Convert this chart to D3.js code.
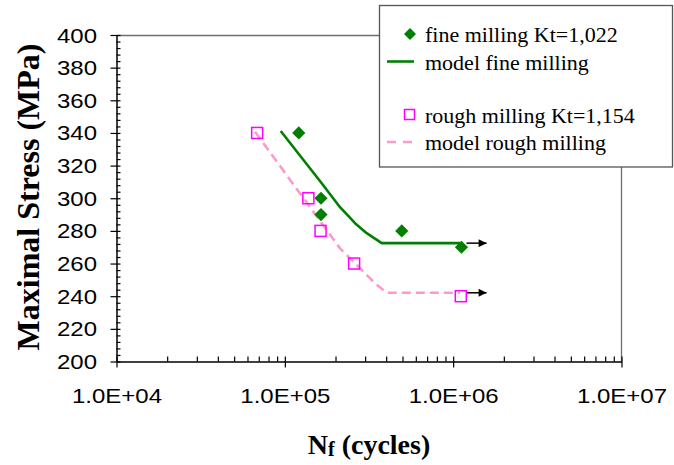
<!DOCTYPE html>
<html>
<head>
<meta charset="utf-8">
<script src="https://cdn.jsdelivr.net/npm/d3@7"></script>
<style>
  html, body { margin: 0; padding: 0; background: #fff; }
  svg { display: block; }
</style>
</head>
<body>
<svg id="chart" width="674" height="465"></svg>
<script>
// Fatigue data: cycles to failure vs maximal stress
const fineN      = [1.21e5, 1.64e5, 1.64e5, 4.95e5, 1.12e6];
const fineStress = [340, 300, 290, 280, 270];

const roughN      = [6.85e4, 1.38e5, 1.63e5, 2.58e5, 1.11e6];
const roughStress = [340, 300, 280, 260, 240];

// Model curves
const fineModelN      = [9.45e4, 1.656e5, 2.127e5, 2.612e5, 3.065e5, 3.763e5, 1.1e6];
const fineModelStress = [341.2, 309.2, 294.5, 284.7, 278.6, 272.5, 272.5];

const roughModelN      = [6.65e4, 2.127e5, 2.796e5, 3.433e5, 4.03e5, 1.1e6];
const roughModelStress = [340.8, 269.3, 257.1, 247.9, 242.1, 242.1];

// Run-out arrows (specimens not broken)
const runoutFromN  = [1.2e6, 1.2e6];
const runoutToN    = [1.58e6, 1.58e6];
const runoutStress = [272.5, 242.1];

// Axis ticks
const xTicks = [1e4, 1e5, 1e6, 1e7];
const xTickLabels = ["1.0E+04", "1.0E+05", "1.0E+06", "1.0E+07"];
const yTicks = [200, 220, 240, 260, 280, 300, 320, 340, 360, 380, 400];

const legendLabels = ["fine milling Kt=1,022", "model fine milling",
                      "rough milling Kt=1,154", "model rough milling"];

(function draw() {
  const GREEN = "#008000", MAGENTA = "#ff00ff", PINK = "#ff99cc";
  const pLeft = 116.5, pRight = 621.5, pTop = 35, pBottom = 361.5;

  const svg = d3.select("#chart");
  const x = d3.scaleLog().domain([1e4, 1e7]).range([pLeft, pRight]);
  const y = d3.scaleLinear().domain([200, 400]).range([pBottom, pTop]);

  // plot frame (top and right edges)
  svg.append("path")
    .attr("d", `M${pLeft},${pTop + 0.5}H${pRight}V${pBottom}`)
    .attr("fill", "none").attr("stroke", "#6e6e6e").attr("stroke-width", 1.3);

  // minor ticks
  const xMinor = [];
  for (let e = 4; e < 7; e++) for (let m = 2; m <= 9; m++) xMinor.push(m * Math.pow(10, e));
  const yMinor = d3.range(200, 401, 4).filter(v => v % 20 !== 0);

  svg.append("g").attr("transform", `translate(0,${pBottom})`)
    .call(d3.axisBottom(x).tickValues(xMinor).tickSize(-5).tickSizeOuter(0).tickFormat(""))
    .call(g => g.select(".domain").remove())
    .call(g => g.selectAll("line").attr("stroke", "#000").attr("stroke-width", 1.2));

  svg.append("g").attr("transform", `translate(${pLeft},0)`)
    .call(d3.axisLeft(y).tickValues(yMinor).tickSize(-4).tickSizeOuter(0).tickFormat(""))
    .call(g => g.select(".domain").remove())
    .call(g => g.selectAll("line").attr("stroke", "#000").attr("stroke-width", 1.2));

  // major x axis
  const TS = 1.2; // horizontal stretch of tick label glyphs
  svg.append("g").attr("transform", `translate(0,${pBottom})`)
    .call(d3.axisBottom(x).tickValues(xTicks).tickFormat((d, i) => xTickLabels[i])
          .tickSize(6).tickSizeOuter(0))
    .call(g => g.select(".domain").attr("stroke", "#000").attr("stroke-width", 1.5))
    .call(g => g.selectAll(".tick line").attr("y1", -5).attr("stroke", "#000").attr("stroke-width", 1.2))
    .call(g => g.selectAll(".tick text")
          .attr("y", 41.5).attr("dy", null)
          .attr("transform", `scale(${TS},1)`)
          .attr("fill", "#000")
          .style("font-family", "'Liberation Sans', Arial, sans-serif")
          .style("font-size", "20px"));

  // major y axis
  svg.append("g").attr("transform", `translate(${pLeft},0)`)
    .call(d3.axisLeft(y).tickValues(yTicks).tickSize(6).tickSizeOuter(0))
    .call(g => g.select(".domain").attr("stroke", "#000").attr("stroke-width", 1.5))
    .call(g => g.selectAll(".tick line").attr("x1", 4).attr("stroke", "#000").attr("stroke-width", 1.2))
    .call(g => g.selectAll(".tick text")
          .attr("x", -19.5 / TS).attr("dy", "0.35em")
          .attr("transform", `scale(${TS},1)`)
          .attr("fill", "#000")
          .style("font-family", "'Liberation Sans', Arial, sans-serif")
          .style("font-size", "20px"));

  // axis titles
  svg.append("text")
    .attr("transform", "translate(39,197) rotate(-90)")
    .attr("text-anchor", "middle")
    .style("font-family", "'Liberation Serif', 'Times New Roman', serif")
    .style("font-weight", "bold").style("font-size", "32px")
    .text("Maximal Stress (MPa)");

  const xt = svg.append("text")
    .attr("x", 369).attr("y", 454)
    .attr("text-anchor", "middle")
    .style("font-family", "'Liberation Serif', 'Times New Roman', serif")
    .style("font-weight", "bold").style("font-size", "28px");
  xt.append("tspan").text("N");
  xt.append("tspan").attr("dy", 2).style("font-size", "20px").text("f");
  xt.append("tspan").attr("dy", -2).text(" (cycles)");

  // model curves
  const line = d3.line().x(d => x(d[0])).y(d => y(d[1]));
  svg.append("path")
    .datum(fineModelN.map((n, i) => [n, fineModelStress[i]]))
    .attr("d", line).attr("fill", "none")
    .attr("stroke", GREEN).attr("stroke-width", 2.6).attr("stroke-linejoin", "round");
  svg.append("path")
    .datum(roughModelN.map((n, i) => [n, roughModelStress[i]]))
    .attr("d", line).attr("fill", "none")
    .attr("stroke", PINK).attr("stroke-width", 2.6).attr("stroke-dasharray", "9,5");

  // run-out arrows
  const defs = svg.append("defs");
  defs.append("marker").attr("id", "arrowhead")
    .attr("viewBox", "0 0 10 10").attr("refX", 10).attr("refY", 5)
    .attr("markerUnits", "userSpaceOnUse")
    .attr("markerWidth", 9).attr("markerHeight", 8).attr("orient", "auto")
    .append("path").attr("d", "M0,0L10,5L0,10Z").attr("fill", "#000");
  svg.append("g").selectAll("line")
    .data(runoutStress.map((s, i) => ({ a: runoutFromN[i], b: runoutToN[i], s })))
    .join("line")
    .attr("x1", d => x(d.a)).attr("x2", d => x(d.b))
    .attr("y1", d => y(d.s)).attr("y2", d => y(d.s))
    .attr("stroke", "#000").attr("stroke-width", 1.5)
    .attr("marker-end", "url(#arrowhead)");

  // measured points
  const diamond = r => `M0,${-r}L${r},0L0,${r}L${-r},0Z`;
  svg.append("g").selectAll("path")
    .data(fineN.map((n, i) => [n, fineStress[i]]))
    .join("path")
    .attr("transform", d => `translate(${x(d[0])},${y(d[1])})`)
    .attr("d", diamond(6.6)).attr("fill", GREEN);

  svg.append("g").selectAll("rect")
    .data(roughN.map((n, i) => [n, roughStress[i]]))
    .join("rect")
    .attr("x", d => x(d[0]) - 5.5).attr("y", d => y(d[1]) - 5.5)
    .attr("width", 11).attr("height", 11)
    .attr("fill", "none").attr("stroke", MAGENTA).attr("stroke-width", 1.5);

  // legend
  const lg = svg.append("g");
  lg.append("rect").attr("x", 379.5).attr("y", 5.5).attr("width", 293).attr("height", 161.5)
    .attr("fill", "#fff").attr("stroke", "#555").attr("stroke-width", 1.3);
  const rowsY = [42, 70, 123, 150];
  lg.selectAll("text").data(legendLabels).join("text")
    .attr("x", 425).attr("y", (d, i) => rowsY[i])
    .style("font-family", "'Liberation Serif', 'Times New Roman', serif")
    .style("font-size", "22px").attr("fill", "#000")
    .text(d => d);
  lg.append("path").attr("transform", "translate(410,34)").attr("d", diamond(6)).attr("fill", GREEN);
  lg.append("line").attr("x1", 387).attr("x2", 414).attr("y1", 61.5).attr("y2", 61.5)
    .attr("stroke", GREEN).attr("stroke-width", 2.6);
  lg.append("rect").attr("x", 404.5).attr("y", 109.5).attr("width", 10).attr("height", 10)
    .attr("fill", "none").attr("stroke", MAGENTA).attr("stroke-width", 1.5);
  lg.append("line").attr("x1", 387).attr("x2", 414).attr("y1", 142).attr("y2", 142)
    .attr("stroke", PINK).attr("stroke-width", 2.6).attr("stroke-dasharray", "9,7");
})();
</script>
</body>
</html>
